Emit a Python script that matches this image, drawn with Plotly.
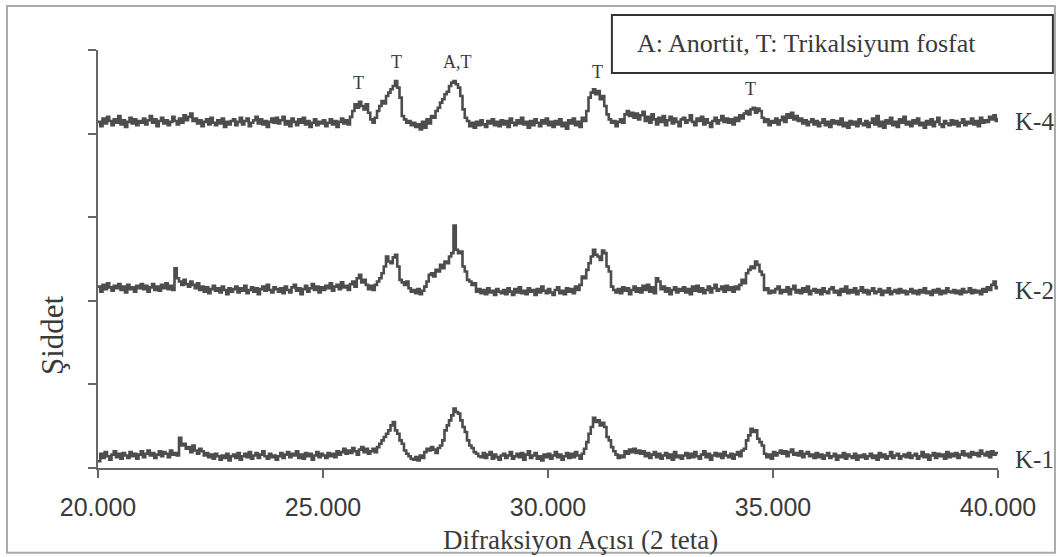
import numpy as np
import plotly.graph_objects as go

# 2-theta sampling (degrees), step 0.05
two_theta = np.round(np.linspace(20.0, 40.0, 401), 2)

# Intensities (1 axis unit = 100 counts)
k4 = [9, 4, 13, 7, 15, 10, 5, 12, 8, 16, 6, 11, 3, 9, 14, 7, 12, 5, 10, 8,
      13, 6, 11, 16, 8, 12, 4, 10, 14, 7, 11, 5, 9, 15, 10, 6, 13, 8, 17, 11,
      15, 19, 10, 13, 7, 11, 4, 9, 12, 6, 14, 8, 5, 11, 7, 13, 3, 9, 6, 10,
      12, 5, 9, 14, 6, 10, 13, 4, 8, 11, 15, 7, 12, 6, 10, 3, 9, 13, 8, 14,
      7, 11, 15, 6, 10, 4, 13, 9, 5, 12, 8, 14, 6, 10, 3, 8, 12, 5, 9, 7,
      11, 4, 8, 12, 6, 10, 3, 9, 13, 7, 11, 6, 15, 22, 30, 26, 33, 28, 24, 30,
      20, 12, 8, 14, 22, 28, 34, 31, 40, 44, 48, 52, 58, 50, 38, 16, 12, 8, 10, 5,
      8, 3, 6, 0, 9, 2, 12, 7, 16, 14, 22, 26, 32, 36, 42, 45, 52, 56, 58, 54,
      50, 40, 24, 14, 10, 4, 8, 2, 9, 5, 11, 6, 3, 10, 7, 12, 5, 9, 4, 11,
      6, 10, 3, 13, 8, 5, 11, 7, 14, 6, 9, 2, 10, 5, 12, 8, 4, 11, 7, 13,
      5, 9, 3, 10, 6, 12, 4, 8, 1, 11, 7, 13, 5, 9, 3, 14, 10, 22, 38, 44,
      48, 42, 46, 36, 40, 28, 18, 12, 8, 10, 4, 9, 12, 8, 18, 22, 16, 20, 14, 19,
      12, 17, 21, 10, 15, 8, 18, 12, 6, 14, 9, 16, 5, 11, 15, 7, 13, 9, 4, 12,
      14, 8, 11, 17, 9, 5, 13, 10, 15, 6, 12, 8, 3, 10, 14, 7, 11, 16, 9, 13,
      8, 12, 6, 14, 10, 17, 13, 19, 22, 18, 24, 26, 20, 25, 22, 14, 9, 12, 5, 10,
      8, 13, 6, 11, 15, 9, 18, 14, 20, 12, 16, 10, 13, 7, 11, 5, 9, 12, 6, 10,
      4, 8, 12, 5, 9, 3, 11, 7, 10, 6, 13, 4, 8, 2, 10, 6, 9, 4, 12, 7,
      5, 10, 3, 8, 13, 6, 16, 4, 9, 2, 11, 7, 14, 5, 9, 3, 12, 8, 15, 6,
      9, 4, 11, 7, 13, 5, 8, 2, 10, 6, 12, 4, 9, 14, 6, 3, 10, 7, 5, 11,
      6, 10, 4, 8, 12, 5, 9, 7, 13, 6, 10, 4, 14, 8, 11, 9, 15, 12, 17, 10,
      14]

k2 = [12, 6, 14, 9, 16, 11, 7, 13, 10, 15, 8, 12, 5, 14, 9, 11, 6, 13, 10, 15,
      9, 13, 6, 11, 15, 8, 12, 7, 14, 10, 16, 9, 13, 8, 34, 22, 18, 14, 20, 15,
      12, 18, 14, 10, 16, 8, 12, 6, 11, 4, 9, 13, 7, 10, 5, 12, 8, 3, 10, 6,
      9, 12, 5, 10, 7, 13, 4, 8, 11, 6, 10, 3, 9, 12, 7, 14, 8, 5, 11, 9,
      6, 10, 4, 12, 8, 5, 11, 14, 7, 10, 3, 9, 13, 6, 10, 15, 8, 12, 5, 11,
      8, 13, 10, 16, 7, 12, 14, 9, 17, 11, 13, 8, 15, 18, 12, 22, 26, 17, 20, 14,
      9, 13, 8, 14, 18, 22, 28, 36, 48, 42, 40, 47, 50, 36, 20, 17, 14, 18, 10, 6,
      8, 4, 9, 3, 7, 12, 18, 26, 28, 24, 32, 30, 38, 34, 42, 40, 48, 52, 85, 56,
      52, 54, 36, 30, 20, 18, 14, 16, 6, 9, 4, 8, 3, 10, 5, 7, 2, 9, 6, 4,
      8, 3, 10, 6, 2, 9, 5, 11, 4, 7, 3, 10, 6, 8, 2, 9, 5, 12, 7, 4,
      9, 5, 2, 8, 11, 4, 7, 3, 10, 6, 9, 4, 12, 8, 14, 24, 22, 32, 40, 48,
      56, 50, 48, 44, 55, 52, 36, 30, 12, 8, 5, 9, 4, 11, 7, 10, 3, 8, 12, 6,
      10, 5, 13, 8, 14, 6, 11, 4, 22, 18, 9, 12, 6, 10, 3, 8, 11, 5, 9, 7,
      11, 5, 9, 3, 12, 7, 13, 6, 10, 4, 8, 12, 5, 10, 14, 7, 9, 12, 6, 13,
      8, 11, 6, 12, 9, 14, 20, 16, 28, 32, 36, 34, 42, 38, 30, 26, 8, 10, 4, 7,
      5, 9, 12, 4, 8, 6, 11, 3, 9, 13, 5, 8, 4, 10, 6, 12, 3, 7, 9, 5,
      8, 3, 10, 6, 4, 9, 11, 5, 7, 2, 9, 6, 12, 4, 8, 5, 10, 3, 7, 11,
      5, 8, 3, 7, 10, 4, 6, 9, 2, 7, 5, 10, 3, 6, 8, 4, 9, 5, 7, 3,
      6, 9, 4, 7, 3, 8, 5, 10, 4, 6, 2, 8, 5, 9, 3, 7, 4, 10, 6, 5,
      8, 4, 7, 3, 9, 5, 6, 10, 4, 8, 5, 7, 3, 9, 6, 11, 8, 14, 18, 10,
      13]

k1 = [3, 12, 7, 14, 9, 5, 11, 15, 8, 12, 6, 13, 10, 7, 14, 9, 12, 6, 11, 15,
      8, 12, 16, 10, 13, 7, 11, 15, 9, 14, 12, 8, 16, 11, 13, 10, 31, 22, 24, 18,
      20, 14, 22, 16, 12, 18, 15, 10, 13, 8, 11, 6, 12, 9, 5, 10, 7, 12, 4, 9,
      11, 7, 13, 5, 9, 12, 8, 14, 6, 10, 13, 7, 11, 15, 9, 6, 12, 8, 10, 5,
      9, 13, 7, 11, 14, 8, 12, 10, 15, 7, 11, 6, 13, 9, 12, 5, 10, 14, 8, 12,
      10, 7, 13, 9, 12, 8, 15, 11, 14, 18, 12, 16, 13, 19, 15, 11, 17, 20, 14, 18,
      12, 15, 18, 14, 20, 24, 28, 32, 36, 40, 46, 50, 40, 36, 28, 24, 16, 12, 9, 6,
      5, 8, 4, 10, 7, 14, 18, 16, 20, 17, 13, 19, 22, 28, 40, 46, 52, 58, 66, 62,
      60, 52, 44, 38, 28, 22, 19, 14, 12, 9, 8, 13, 7, 11, 14, 6, 11, 8, 5, 10,
      12, 7, 10, 14, 6, 9, 12, 8, 13, 5, 11, 15, 7, 10, 13, 6, 9, 4, 11, 8,
      12, 6, 10, 14, 8, 11, 5, 9, 13, 7, 12, 8, 14, 10, 6, 12, 18, 26, 36, 44,
      55, 50, 52, 46, 49, 44, 32, 28, 20, 15, 11, 7, 10, 8, 15, 12, 17, 14, 18, 13,
      16, 12, 15, 9, 13, 7, 11, 14, 8, 12, 6, 10, 13, 7, 11, 5, 14, 8, 10, 6,
      10, 13, 7, 12, 8, 14, 9, 6, 11, 15, 8, 12, 5, 10, 13, 9, 12, 7, 14, 10,
      8, 12, 6, 11, 14, 9, 16, 18, 28, 34, 42, 38, 40, 30, 26, 22, 12, 8, 11, 6,
      14, 10, 13, 16, 12, 15, 9, 14, 17, 11, 13, 10, 15, 8, 12, 14, 9, 11, 7, 13,
      8, 11, 6, 10, 13, 7, 9, 12, 5, 10, 8, 13, 6, 11, 9, 7, 12, 5, 10, 8,
      11, 6, 9, 12, 7, 10, 5, 13, 8, 11, 6, 9, 14, 7, 10, 12, 6, 9, 11, 8,
      13, 7, 10, 12, 6, 9, 14, 8, 11, 5, 10, 13, 7, 12, 9, 11, 6, 14, 8, 12,
      9, 13, 7, 11, 15, 10, 12, 8, 14, 11, 13, 9, 16, 12, 10, 14, 8, 15, 11, 13,
      14]

series_names = ["K-1", "K-2", "K-4"]
series_values = [k1, k2, k4]
offsets = [0.05, 2.05, 4.05]          # vertical stacking of the patterns
label_y = [0.10, 2.12, 4.14]

peak_labels = ["T", "T", "A,T", "T", "T"]
peak_x = [25.78, 26.64, 27.98, 31.09, 34.49]
peak_y = [4.60, 4.86, 4.86, 4.74, 4.53]

x_ticks = [20, 25, 30, 35, 40]
x_tick_text = ["20.000", "25.000", "30.000", "35.000", "40.000"]

SERIF = "Liberation Serif, Times New Roman, serif"
SANS = "Liberation Sans, Arial, sans-serif"
LINE = "#4d4d4d"
TEXT = "#3a3a3a"

fig = go.Figure()
for name, vals, off in zip(series_names, series_values, offsets):
    assert len(vals) == len(two_theta)
    fig.add_trace(go.Scatter(
        x=two_theta, y=np.array(vals) / 100.0 + off, mode="lines", name=name,
        line=dict(color=LINE, width=2.6, shape="hv"), showlegend=False,
        hoverinfo="skip"))

annotations = []
for name, ly in zip(series_names, label_y):
    annotations.append(dict(x=1.017, y=ly, xref="paper", yref="y", text=name,
                            showarrow=False, xanchor="left", yanchor="middle",
                            font=dict(family=SERIF, size=25, color=TEXT)))
for t, px, py in zip(peak_labels, peak_x, peak_y):
    annotations.append(dict(x=px, y=py, xref="x", yref="y", text=t,
                            showarrow=False, xanchor="center", yanchor="middle",
                            font=dict(family=SERIF, size=18, color=TEXT)))
annotations.append(dict(x=0.787, y=1.0144, xref="paper", yref="paper",
                        text="A: Anortit, T: Trikalsiyum fosfat", showarrow=False,
                        xanchor="center", yanchor="middle",
                        font=dict(family=SERIF, size=26, color=TEXT)))
annotations.append(dict(x=0.5356, y=-0.172, xref="paper", yref="paper",
                        text="Difraksiyon Açısı (2 teta)", showarrow=False,
                        xanchor="center", yanchor="middle",
                        font=dict(family=SERIF, size=27, color=TEXT)))
annotations.append(dict(x=-0.0511, y=0.318, xref="paper", yref="paper",
                        text="Şiddet", showarrow=False, textangle=-90,
                        xanchor="center", yanchor="middle",
                        font=dict(family=SERIF, size=31, color=TEXT)))

shapes = [
    dict(type="rect", xref="paper", yref="paper", x0=0.571, x1=1.061,
         y0=0.945, y1=1.084, line=dict(color="#333", width=2)),
    dict(type="rect", xref="paper", yref="paper", x0=-0.1011, x1=1.0633,
         y0=-0.203, y1=1.105, line=dict(color="#aaaaaa", width=2)),
]

fig.update_layout(
    width=1058, height=557,
    margin=dict(l=98, r=60, t=50, b=89, autoexpand=False),
    paper_bgcolor="white", plot_bgcolor="white",
    annotations=annotations, shapes=shapes,
    xaxis=dict(range=[20, 40], tickvals=x_ticks, ticktext=x_tick_text,
               showgrid=False, zeroline=False, showline=True,
               linecolor="#666", linewidth=2, ticks="outside", ticklen=8,
               tickcolor="#666", tickwidth=1.5, ticklabelstandoff=8,
               tickfont=dict(family=SANS, size=25, color=TEXT)),
    yaxis=dict(range=[0, 5], tickvals=[0, 1, 2, 3, 4, 5], showticklabels=False,
               showgrid=False, zeroline=False, showline=True,
               linecolor="#666", linewidth=2, ticks="outside", ticklen=8,
               tickcolor="#666", tickwidth=1.5),
)

fig.write_html("out.html", config={"displayModeBar": False},
               post_script="document.body.style.margin='0px';")
